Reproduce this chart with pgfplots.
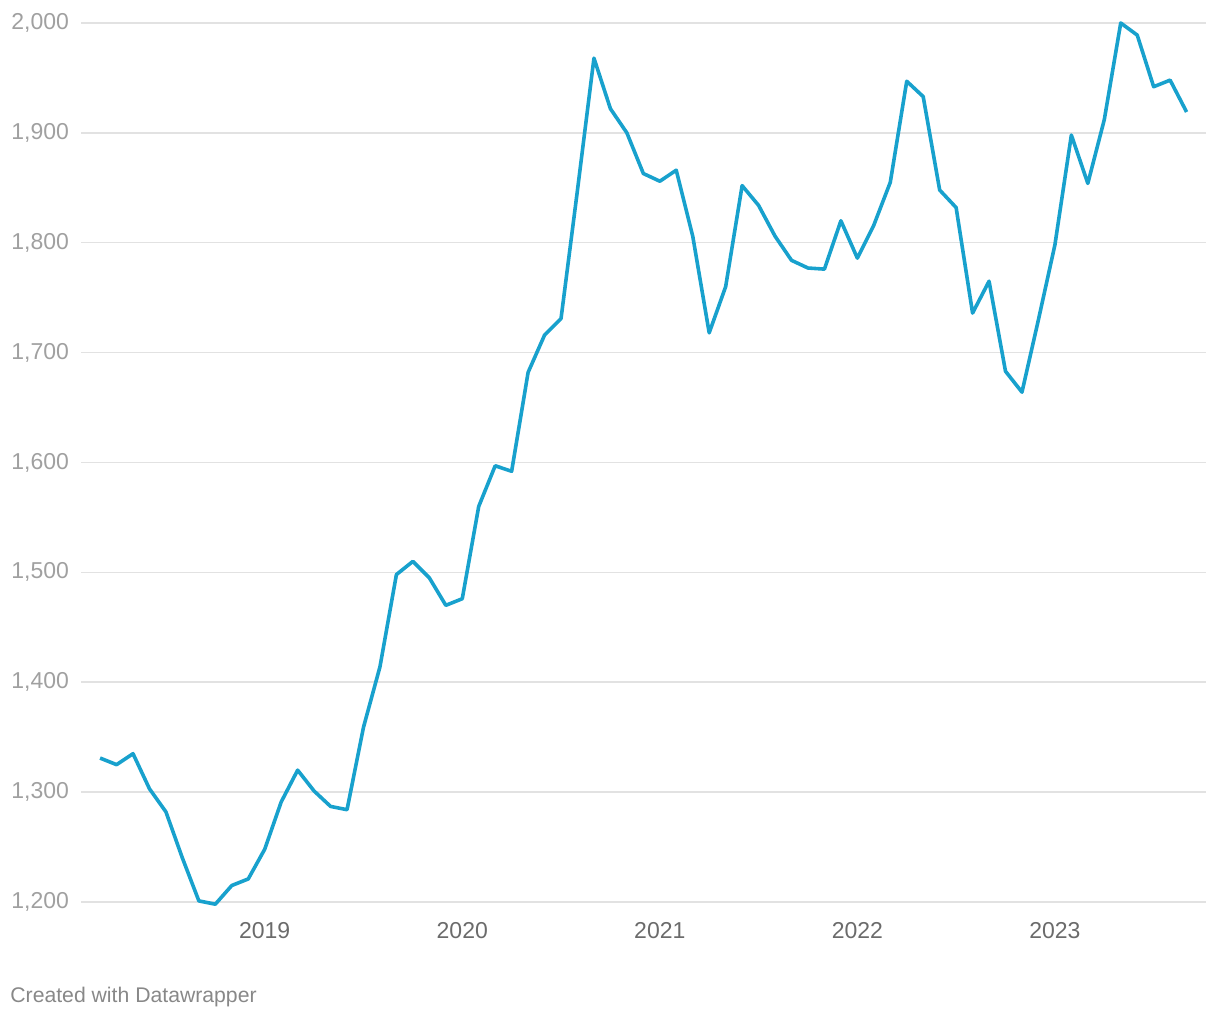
\documentclass[border=0pt]{standalone}
\usepackage{fontspec}
\setmainfont{Liberation Sans}
\usepackage{pgfplots}
\pgfplotsset{compat=1.18}

\definecolor{lineblue}{HTML}{18A1CD}
\definecolor{gridgray}{HTML}{E2E2E2}
\definecolor{ylab}{HTML}{A0A0A0}
\definecolor{xlab}{HTML}{6B6B6B}
\definecolor{credit}{HTML}{888888}

\begin{document}
\begin{tikzpicture}
\begin{axis}[
    at={(0,0)}, anchor=south west,
    scale only axis,
    width=562.5pt, height=439.5pt,
    xmin=2018.07, xmax=2023.765,
    ymin=1200, ymax=2000,
    axis line style={draw=none},
    major tick length=0pt,
    ymajorgrids,
    grid style={gridgray, line width=0.75pt},
    ytick={1200,1300,...,2000},
    xtick={2019,2020,2021,2022,2023},
    xticklabels={2019,2020,2021,2022,2023},
    /pgf/number format/assume math mode=true,
    /pgf/number format/1000 sep={,},
    tick label style={font=\fontsize{11.5}{13}\selectfont},
    yticklabel style={ylab, anchor=east, xshift=-2.5pt},
    xticklabel style={xlab, anchor=north, yshift=-6.5pt},
    clip=false,
]
% monthly values, Mar 2018 -- Sep 2023
\addplot[lineblue, line width=1.8pt, line join=round, mark=none] coordinates {
    (2018.1667,1331) (2018.2500,1325) (2018.3333,1335) (2018.4167,1303)
    (2018.5000,1282) (2018.5833,1240) (2018.6667,1201) (2018.7500,1198)
    (2018.8333,1215) (2018.9167,1221) (2019.0000,1248) (2019.0833,1291)
    (2019.1667,1320) (2019.2500,1301) (2019.3333,1287) (2019.4167,1284)
    (2019.5000,1359) (2019.5833,1414) (2019.6667,1498) (2019.7500,1510)
    (2019.8333,1495) (2019.9167,1470) (2020.0000,1476) (2020.0833,1560)
    (2020.1667,1597) (2020.2500,1592) (2020.3333,1682) (2020.4167,1716)
    (2020.5000,1731) (2020.5833,1848) (2020.6667,1968) (2020.7500,1922)
    (2020.8333,1900) (2020.9167,1863) (2021.0000,1856) (2021.0833,1866)
    (2021.1667,1806) (2021.2500,1718) (2021.3333,1760) (2021.4167,1852)
    (2021.5000,1834) (2021.5833,1806) (2021.6667,1784) (2021.7500,1777)
    (2021.8333,1776) (2021.9167,1820) (2022.0000,1786) (2022.0833,1816)
    (2022.1667,1855) (2022.2500,1947) (2022.3333,1933) (2022.4167,1848)
    (2022.5000,1832) (2022.5833,1736) (2022.6667,1765) (2022.7500,1683)
    (2022.8333,1664) (2022.9167,1730) (2023.0000,1798) (2023.0833,1898)
    (2023.1667,1854) (2023.2500,1912) (2023.3333,2000) (2023.4167,1989)
    (2023.5000,1942) (2023.5833,1948) (2023.6667,1919)
};
\end{axis}
\node[anchor=west, credit, font=\fontsize{10.6}{12}\selectfont, inner sep=0pt] at (-35.5pt,-47.5pt) {Created with Datawrapper};
\path[use as bounding box] (-40.5pt,-59pt) rectangle (569.5pt,451pt);
\end{tikzpicture}
\end{document}
